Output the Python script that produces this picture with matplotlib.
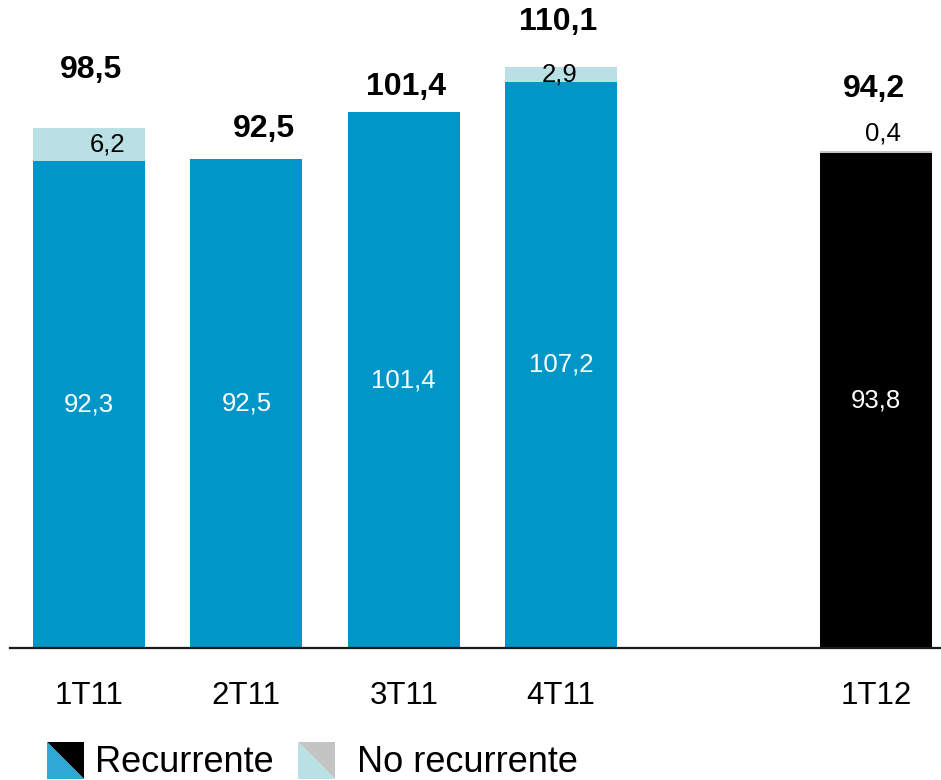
import matplotlib.pyplot as plt
from matplotlib.patches import Polygon

plt.rcParams['font.family'] = ['Liberation Sans', 'DejaVu Sans']

# datos trimestrales
trimestres = ['1T11', '2T11', '3T11', '4T11', '1T12']
posiciones = [0, 1, 2, 3, 5]
recurrente = [92.3, 92.5, 101.4, 107.2, 93.8]
no_recurrente = [6.2, 0.0, 0.0, 2.9, 0.4]
totales = [98.5, 92.5, 101.4, 110.1, 94.2]

azul = '#0097c8'
cian = '#b9e1e5'
gris = '#c4c4c4'

col_rec = [azul, azul, azul, azul, 'black']
col_norec = [cian, cian, cian, cian, gris]

# desplazamientos de etiquetas (px)
dx_total = [2, 18, 2, -3, -2]
dy_total = [58, 30, 25, 45, 62]
dx_norec = [19, 0, 0, -2, 7]

def fmt(v):
    return f'{v:.1f}'.replace('.', ',')

fig = plt.figure(figsize=(9.41, 7.80), dpi=100)
ax = fig.add_axes([10 / 941, 132 / 780, 931 / 941, 648 / 780])

ancho = 0.711
ax.bar(posiciones, recurrente, width=ancho, color=col_rec, zorder=2)
ax.bar(posiciones, no_recurrente, bottom=recurrente, width=ancho,
       color=col_norec, zorder=2)

for x, r, n, t, i in zip(posiciones, recurrente, no_recurrente, totales,
                         range(len(totales))):
    ax.text(x, r / 2, fmt(r), color='white', fontsize=18.5,
            ha='center', va='center')
    if n > 0:
        if n > 1:
            ypos = r + n / 2
            off = 0
        else:
            ypos = t
            off = 17
        ax.annotate(fmt(n), (x, ypos), xytext=(dx_norec[i] * 0.72, off * 0.72),
                    textcoords='offset points', fontsize=18.5,
                    ha='center', va='center', color='black')
    ax.annotate(fmt(t), (x, t), xytext=(dx_total[i] * 0.72, dy_total[i] * 0.72),
                textcoords='offset points', fontsize=23, fontweight='bold',
                ha='center', va='center')

ax.set_xlim(-0.5016, 5.413)
ax.set_ylim(0, 122.7)
ax.set_xticks(posiciones)
ax.set_xticklabels(trimestres, fontsize=22.5)
ax.tick_params(axis='x', length=0, pad=24)
ax.set_yticks([])
for lado in ['top', 'right', 'left']:
    ax.spines[lado].set_visible(False)
ax.spines['bottom'].set_linewidth(1.6)
ax.spines['bottom'].set_color('#1a1a1a')

# leyenda con cuadros partidos en diagonal
def cuadro(x0, y0, lado, c_sup, c_inf):
    W, H = 941, 780
    pts_sup = [(x0, y0), (x0 + lado, y0), (x0 + lado, y0 + lado)]
    pts_inf = [(x0, y0), (x0, y0 + lado), (x0 + lado, y0 + lado)]
    for pts, c in ((pts_sup, c_sup), (pts_inf, c_inf)):
        fig.patches.append(Polygon([(px / W, 1 - py / H) for px, py in pts],
                                   closed=True, facecolor=c, edgecolor='none',
                                   transform=fig.transFigure))

cuadro(47, 742, 37, 'black', '#2fa8d5')
cuadro(298, 742, 37, gris, cian)
fig.text(95 / 941, 1 - 772 / 780, 'Recurrente', fontsize=26, va='baseline')
fig.text(357 / 941, 1 - 772 / 780, 'No recurrente', fontsize=26, va='baseline')

fig.savefig('out.png', dpi=100)
